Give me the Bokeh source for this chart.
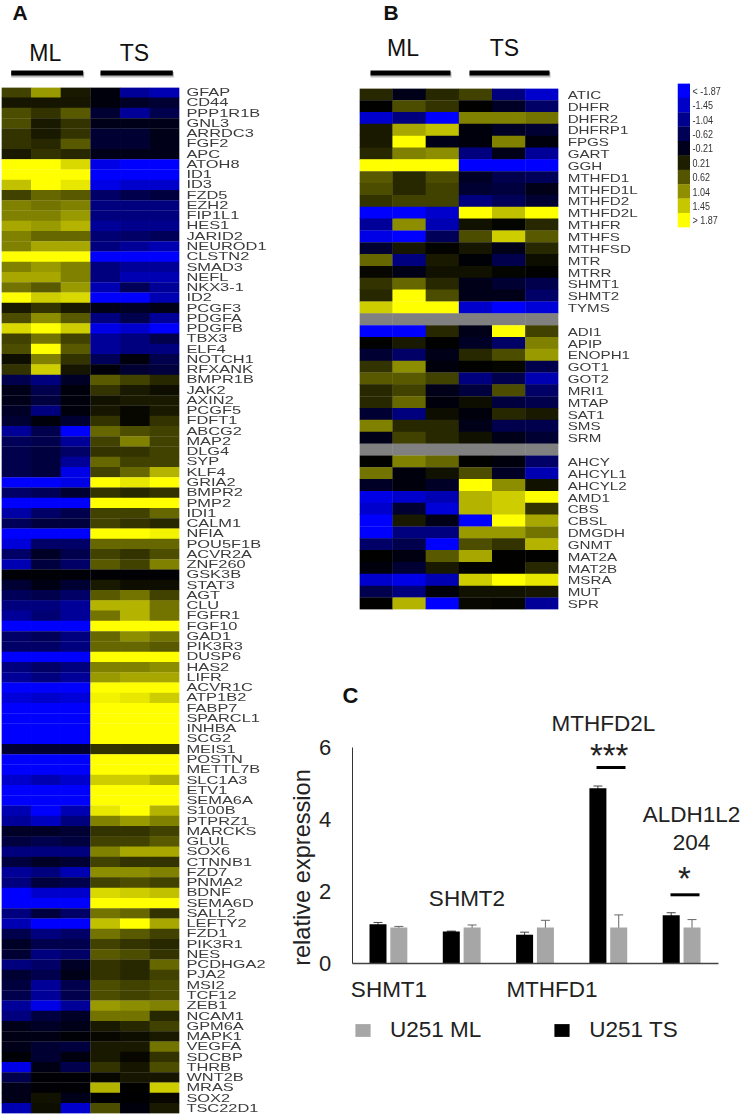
import math
from bokeh.plotting import figure
from bokeh.layouts import row, column
from bokeh.models import (Range1d, FactorRange, LinearColorMapper, ColumnDataSource, Label, Spacer,
                          Whisker, Legend, LegendItem, FixedTicker)
from bokeh.core.properties import value
from bokeh.embed import file_html
from bokeh.resources import INLINE
from bokeh.transform import transform

NAN = float("nan")
SANS = "Liberation Sans"

# ---------- Panel A ----------
A_GENES = ["GFAP","CD44","PPP1R1B","GNL3","ARRDC3","FGF2","APC","ATOH8","ID1","ID3","FZD5","EZH2","FIP1L1","HES1",
 "JARID2","NEUROD1","CLSTN2","SMAD3","NEFL","NKX3-1","ID2","PCGF3","PDGFA","PDGFB","TBX3","ELF4","NOTCH1","RFXANK",
 "BMPR1B","JAK2","AXIN2","PCGF5","FDFT1","ABCG2","MAP2","DLG4","SYP","KLF4","GRIA2","BMPR2","PMP2","IDI1","CALM1",
 "NFIA","POU5F1B","ACVR2A","ZNF260","GSK3B","STAT3","AGT","CLU","FGFR1","FGF10","GAD1","PIK3R3","DUSP6","HAS2","LIFR",
 "ACVR1C","ATP1B2","FABP7","SPARCL1","INHBA","SCG2","MEIS1","POSTN","METTL7B","SLC1A3","ETV1","SEMA6A","S100B","PTPRZ1",
 "MARCKS","GLUL","SOX6","CTNNB1","FZD7","PNMA2","BDNF","SEMA6D","SALL2","LEFTY2","FZD1","PIK3R1","NES","PCDHGA2","PJA2",
 "MSI2","TCF12","ZEB1","NCAM1","GPM6A","MAPK1","VEGFA","SDCBP","THRB","WNT2B","MRAS","SOX2","TSC22D1"]
# expression per sample: ML1 ML2 ML3 TS1 TS2 TS3 (read on a -10..10 colour scale, 10 = |1.87|)
A_VALUES = [
[2.5,6,1,-.5,-6,-7],[.8,.8,.8,-.5,-1.5,-2],[3,2,3.5,-2,-6,-3],[3,1,2,-1,-1,-1],[2,1,2,-2,-2,-1],[2,1.5,3.5,-2,-2,-1],
[1,2,1.5,-1,-1,-1],[10,10,8.5,-9,-10,-10],[10,10,10,-10,-10,-10],[7.5,10,9,-9,-8,-8],[2.5,4,3.5,-4,-3,-2.5],
[5,4.5,5,-5,-5,-5],[5,5,6,-5,-5,-5],[6.5,6,7,-6,-5.5,-5.5],[5,4,4,-4.5,-4,-3.5],[5,6.5,6.5,-5,-6,-7],
[10,10,10,-10,-10,-10],[5,6,5,-5,-6,-6],[6.5,6.5,5,-5,-7,-7],[4.5,3.5,6,-7,-3.5,-6],[10,8,8.5,-10,-10,-7],
[1,2,1,-1,-1.5,-1],[3,5.5,3.5,-5,-3,-6],[8.5,10,8,-9,-8,-10],[2.5,4.5,2.5,-6,-5,-3],[3,10,3.5,-6,-5,-5],
[.5,5,2,-3.5,-.5,-3],[2,8,.8,-.5,-2,-2.5],[-3,-5,-1.5,3.5,2.5,1.5],[-1,-3,-.5,2,1,.5],[-1,-2.5,-.5,.7,1,1],
[-1.5,-5,-.5,.8,.3,1],[-2,-.5,-2,2,.3,2],[-6,-3,-10,4,3,2.5],[-3.5,-3,-6,2.5,5,2.5],[-3,-2.5,-4,2,2,2.5],
[-3,-2.5,-6,4,2.5,2.5],[-3,-2.5,-9,2.5,4,7],[-10,-10,-9,10,9,10],[-4,-3.5,-2,2,1.5,2],[-10,-10,-10,10,10,10],
[-6.5,-4,-3,2.5,2.5,4],[-3.5,-2.5,-2.5,2.5,2,1.5],[-10,-10,-10,10,10,9.5],[-8.5,-4,-4,4,4,4],[-4,-1.5,-3,2.5,2,3],
[-7,-2.5,-4,3.5,2.5,5],[-.3,-.3,-.3,-.2,-.2,-.2],[-2,-.8,-2,1,.5,.5],[-3.5,-3,-4,3.5,4.5,2.5],[-5,-5,-6,7,7,4.5],
[-6,-4.5,-6,4.5,7,4.5],[-10,-10,-10,10,10,10],[-4,-3.5,-5,4,5.5,4.5],[-4,-4,-5,4,4,3.5],[-10,-10,-10,10,10,10],
[-5,-4,-5,5,5,5.5],[-6,-5,-6,6,6.5,6.5],[-10,-10,-10,10,10,10],[-8.5,-8,-8.5,9.5,9,8],[-10,-10,-10,10,10,10],
[-10,-10,-10,10,10,10],[-10,-10,-10,10,10,10],[-10,-10,-10,10,10,10],[-2,-2,-2,2,2,2],[-10,-10,-10,10,10,10],
[-10,-10,-10,10,10,10],[-8,-7,-8,8,8,7],[-10,-10,-10,10,10,10],[-10,-10,-10,10,10,10],[-7,-10,-7,9,10,7],
[-6,-7.5,-5,5,6,5],[-1.5,-1.5,-2,2,2,2.5],[-2.5,-3,-2.5,2.5,2.5,3.5],[-5,-5,-5,5,6.5,6.5],[-2.5,-1.5,-2,2.5,2,2],
[-6,-5,-7,5.5,5.5,5],[-5,-2.5,-3,2.5,3,2.5],[-10,-8,-8,8.5,8,7.5],[-10,-10,-10,10,10,10],[-5,-2.5,-4,4.5,4,2],
[-7,-10,-10,7.5,10,6.5],[-3,-5,-4,4.5,3.5,2.5],[-1.5,-3,-3,2.5,2,1.5],[-2,-5,-4,3.5,3,2],[-5,-4,-1.5,2,1.5,4],
[-2,-3,-1,2,1.5,2.5],[-2.5,-6,-3,3,2.5,3],[-3,-6,-3,3,2.5,3],[-6,-9,-6,6,5.5,5],[-5,-2.5,-1.5,4.5,4.5,1.5],
[-1,-1.5,-1,1,1.5,2.5],[-.8,-.8,-.3,.3,.5,1],[-1,-2,-2.5,1,1,4.5],[-.3,-2,-.6,1,.3,2],[-9,-.8,-3,2,.8,3],
[-3,-.2,-.2,.3,.8,.8],[-1,-.2,-.2,7,0,8],[-1,.7,-1,-.1,-.1,.3],[-7,.5,-8,3,-.5,1]]

# ---------- Panel B ----------
B_GENES = ["ATIC","DHFR","DHFR2","DHFRP1","FPGS","GART","GGH","MTHFD1","MTHFD1L","MTHFD2","MTHFD2L","MTHFR","MTHFS",
 "MTHFSD","MTR","MTRR","SHMT1","SHMT2","TYMS"," ","ADI1","APIP","ENOPH1","GOT1","GOT2","MRI1","MTAP","SAT1","SMS","SRM",
 "  ","AHCY","AHCYL1","AHCYL2","AMD1","CBS","CBSL","DMGDH","GNMT","MAT2A","MAT2B","MSRA","MUT","SPR"]
B_VALUES = [
[1.5,-1,1.5,2.5,-5,-8],[0,3,2,0,-1.5,-4],[-8,-5,-10,5,5,4.5],[1,6.5,7.5,-.5,-1.5,-2],[1,10,-1,-.5,5,-.5],
[1.5,5,5.5,-5,-1,-6],[10,10,10,-10,-10,-10],[3.5,1.5,3,-1.5,-3,-3.5],[3,1.5,2.5,-2,-2.5,-1],[2,2.5,2.5,-5,-3.5,-2],
[-10,-10,-8,10,7.5,10],[-6,5.5,-7,.7,.2,1.5],[-9,-10,-3.5,3,8,3.5],[-2,.8,.1,.8,-1,1.5],[4,-5,1,-.3,-3,.5],
[.3,-1,.7,.7,.2,0],[2,4,1.5,-1,-2,-3],[1.5,10,3,-1,-1,-4],[8,10,10,-8,-10,-8.5],[NAN]*6,
[-10,-10,1.5,-1,10,2.5],[0,1,0,-1.5,-4,5],[-2,-4,-1,1.5,3,6],[2,5.5,-.5,0,.2,-3],[3.5,3.5,2.5,-5,-3,-7],
[1.5,2.5,-1,-2.5,3,-4],[1.5,4,-.5,.5,-2.5,-3],[-2,-5,.5,-.5,1.5,1],[5,1.5,1.5,-1,-3,-3],[-1,2.5,1.5,.7,-1,-2],[NAN]*6,
[0,5,4,0,-.5,-4],[4.5,-.5,.7,3,-1.5,-7],[-1.5,-.5,-1.5,10,5.5,.7],[-9,-8,-7,7,8,10],[-8,-2,-8.5,7,8,2],
[-10,1,-1,-10,10,6.5],[-10,-5,-5,6,6,4.5],[-4,-3,-10,3,2,7],[0,-.7,3.5,6.5,0,0],[-.5,-2,1,0,0,1.5],
[-8,-9,-7,8,10,9],[-3,-5,-.5,.7,.7,.8],[0,7,-10,.3,.2,-6]]

# ---------- colour key ----------
KEY_LABELS = ["< -1.87","-1.45","-1.04","-0.62","-0.21","0.21","0.62","1.04","1.45","> 1.87"]
KEY_VALUES = [-1.87,-1.45,-1.04,-.62,-.21,.21,.62,1.04,1.45,1.87]

# ---------- Panel C ----------
C_GENES = ["SHMT1","SHMT2","MTHFD1","MTHFD2L","ALDH1L2\n204"]
C_TS = [1.09,0.89,0.80,4.87,1.34]
C_TS_ERR = [0.05,0.01,0.07,0.06,0.07]
C_ML = [1.0,1.0,1.0,1.0,1.0]
C_ML_ERR = [0.03,0.07,0.20,0.35,0.22]

palette = []
for i in range(256):
    v = (i - 127.5) / 127.5
    g = int(round(abs(v) * 255))
    palette.append("#%02x%02x%02x" % ((g, g, 0) if v > 0 else (0, 0, g)))
mapper = LinearColorMapper(palette=palette, low=-10, high=10, nan_color="#808080")
BLUR = {"filter": "blur(0.55px)"}


def bare(p):
    p.outline_line_color = None
    p.xgrid.visible = False
    p.ygrid.visible = False
    p.xaxis.visible = False
    p.yaxis.visible = False
    return p


def heat(genes, values, w, h, left, right, top, bottom):
    xs, ys, vs = [], [], []
    for g_, vals in zip(genes, values):
        for j, v_ in enumerate(vals):
            xs.append(j + 0.5); ys.append(g_); vs.append(v_)
    rng = FactorRange(factors=list(reversed(genes)))
    p = figure(width=w, height=h, x_range=Range1d(0, 6), y_range=rng, output_backend="svg", toolbar_location=None,
               min_border_left=left, min_border_right=right, min_border_top=top, min_border_bottom=bottom,
               styles=BLUR)
    bare(p)
    p.rect(x="x", y="y", width=1.01, height=1.03, source=ColumnDataSource(dict(x=xs, y=ys, v=vs)),
           fill_color=transform("v", mapper), line_color=None)
    return p, rng


def gene_text(rng, w, h, top, bottom, font_size, scale, offset=1, color="#3c3c3c"):
    p = figure(width=w, height=h, x_range=Range1d(0, w), y_range=rng, output_backend="svg", toolbar_location=None,
               min_border_left=0, min_border_right=0, min_border_top=top, min_border_bottom=bottom,
               background_fill_alpha=0, border_fill_alpha=0,
               styles={"transform": f"scaleX({scale})", "transform-origin": "left top", "filter": "blur(0.4px)"})
    bare(p)
    names = list(rng.factors)
    p.text(x=[offset] * len(names), y=names, text=names, text_font=value(SANS), text_font_size=value(font_size),
           text_color=color, text_align="left", text_baseline="middle")
    return p


def header(w, h, x_start, letter, letter_x, ml_x, ts_x, mid_y, bars):
    p = figure(width=w, height=h, x_range=Range1d(x_start, x_start + w), y_range=Range1d(h, 0), output_backend="svg",
               toolbar_location=None, min_border=0)
    bare(p)
    for (a, b) in bars:
        p.quad(left=[a], right=[b + 1], top=[71.5], bottom=[77], fill_color="#bbbbbb", line_color=None)
        p.quad(left=[a], right=[b], top=[70], bottom=[75], fill_color="#000000", line_color=None)
    p.add_layout(Label(x=letter_x, y=12, text=letter, text_font=SANS, text_font_style="bold", text_font_size="21px",
                       text_align="left", text_baseline="middle", text_color="#111111"))
    for txt, x in (("ML", ml_x), ("TS", ts_x)):
        p.add_layout(Label(x=x, y=mid_y, text=txt, text_font=SANS, text_font_size="23px", text_align="center",
                           text_baseline="middle", text_color="#111111"))
    return p


# ---- A
hdr_a = header(275, 87, 0, "A", 12, 44.7, 134, 52, [(10.7, 82.7), (100, 172.3)])
heat_a, rng_a = heat(A_GENES, A_VALUES, 183, 1027, 1, 4, 0, 1)
lab_a = gene_text(rng_a, 57, 1027, 0, 1, "10.2px", 1.61)
col_a = column(hdr_a, row(heat_a, lab_a, Spacer(width=35, height=1027), spacing=0), spacing=0)

# ---- B
hdr_b = header(467, 83, 275, "B", 383, 402.5, 504, 47, [(370, 450), (469, 549)])
H_B = 589
heat_b, rng_b = heat(B_GENES, B_VALUES, 292, H_B, 84, 9, 5, H_B - 5 - 521)
lab_b = gene_text(rng_b, 55, H_B, 5, H_B - 5 - 521, "11.6px", 1.31, offset=0)

key_rng = FactorRange(factors=list(reversed(KEY_LABELS)))
key = figure(width=30, height=H_B, x_range=Range1d(0, 1), y_range=key_rng, output_backend="svg",
             toolbar_location=None, min_border_left=17, min_border_right=0, min_border_top=0,
             min_border_bottom=H_B - 144, styles=BLUR)
bare(key)
key.rect(x="x", y="y", width=1, height=1.02, line_color=None, fill_color=transform("v", mapper),
         source=ColumnDataSource(dict(x=[0.5] * 10, y=KEY_LABELS, v=[v_ * 10 / 1.87 for v_ in KEY_VALUES])))
key_lab = gene_text(key_rng, 52, H_B, 0, H_B - 144, "11px", 0.82, offset=3, color="#333333")

# ---- C : the frame fills the whole panel, the axes sit at their data location
W_C, H_C = 467, 442
TOP_C = 672          # panel top on the page
PX_PER_GROUP, PX_PER_UNIT = 73.3, 36
X0_PX, Y0_PX = 351.7, 963


def px_x(px):
    return (px - X0_PX) / PX_PER_GROUP


def px_y(px):
    return (Y0_PX - px) / PX_PER_UNIT


c = figure(width=W_C, height=H_C, x_range=Range1d(px_x(275), px_x(742)), y_range=Range1d(px_y(TOP_C + H_C), px_y(TOP_C)),
           output_backend="svg", toolbar_location=None, min_border=0)
c.outline_line_color = None
c.xgrid.visible = False
c.ygrid.visible = False
c.yaxis.fixed_location = 0
c.yaxis.bounds = (0, 6)
c.yaxis.ticker = FixedTicker(ticks=[0, 2, 4, 6])
c.yaxis.major_tick_out = 0
c.yaxis.major_tick_in = 0
c.yaxis.minor_tick_out = 0
c.yaxis.minor_tick_in = 0
c.yaxis.major_label_standoff = 21
c.yaxis.major_label_text_font = SANS
c.yaxis.major_label_text_font_size = "22px"
c.yaxis.major_label_text_color = "#222222"
c.yaxis.axis_line_color = "#333333"
c.xaxis.fixed_location = 0
c.xaxis.bounds = (0, 5)
c.xaxis.ticker = FixedTicker(ticks=[])
c.xaxis.major_tick_out = 0
c.xaxis.major_tick_in = 0
c.xaxis.minor_tick_out = 0
c.xaxis.minor_tick_in = 0
c.xaxis.axis_line_color = "#444444"
c.xaxis.axis_line_width = 1.5

idx = list(range(len(C_GENES)))
src = ColumnDataSource(dict(
    x_ts=[i + 0.352 for i in idx], x_ml=[i + 0.636 for i in idx], ts=C_TS, ml=C_ML,
    ts_hi=[v_ + e for v_, e in zip(C_TS, C_TS_ERR)], ts_lo=[v_ - e for v_, e in zip(C_TS, C_TS_ERR)],
    ml_hi=[v_ + e for v_, e in zip(C_ML, C_ML_ERR)], ml_lo=[v_ - e for v_, e in zip(C_ML, C_ML_ERR)]))
r_ts = c.vbar(x="x_ts", top="ts", width=0.232, source=src, fill_color="#000000", line_color=None)
r_ml = c.vbar(x="x_ml", top="ml", width=0.232, source=src, fill_color="#a6a6a6", line_color=None)
for base, up, lo, col in (("x_ts", "ts_hi", "ts_lo", "#444444"), ("x_ml", "ml_hi", "ml_lo", "#666666")):
    wk = Whisker(base=base, upper=up, lower=lo, source=src, line_color=col, line_width=1)
    wk.upper_head.size = 9; wk.lower_head.size = 9
    wk.upper_head.line_color = col; wk.lower_head.line_color = col
    c.add_layout(wk)


def note(text, px, py, size="22.5px", color="#222222", style="normal", align="center", angle=0):
    c.add_layout(Label(x=px_x(px), y=px_y(py), text=text, text_font=SANS, text_font_size=size, text_color=color,
                       text_font_style=style, text_align=align, text_baseline="middle", angle=angle))


note(C_GENES[0], 388.5, 989)
note(C_GENES[1], 466.5, 898)
note(C_GENES[2], 551.5, 989)
note(C_GENES[3], 603, 723)
note(C_GENES[4].split("\n")[0], 691, 814)
note(C_GENES[4].split("\n")[1], 691, 842)
note("***", 608.7, 755, size="33px")
note("*", 684, 878, size="33px")
note("C", 342, 694.5, size="22px", style="bold", color="#111111", align="left")
note("relative expression", 301, 867, size="23.6px", angle=math.pi / 2)
c.segment(x0=[px_x(596), px_x(670)], y0=[px_y(767), px_y(894.3)], x1=[px_x(625), px_x(699)], y1=[px_y(767), px_y(894.3)],
          line_color="#000000", line_width=3)

leg = Legend(items=[LegendItem(label="U251 ML", renderers=[r_ml]), LegendItem(label="U251 TS", renderers=[r_ts])],
             orientation="horizontal", location=(78, 71), border_line_color=None, background_fill_alpha=0,
             glyph_width=19, glyph_height=16, label_standoff=18, spacing=71, padding=0, margin=0,
             label_text_font=SANS, label_text_font_size="22.5px", label_text_color="#222222")
c.add_layout(leg)

key_col = column(row(key, key_lab, spacing=0), spacing=0)
col_b = column(hdr_b, row(heat_b, lab_b, Spacer(width=38, height=H_B), key_col, spacing=0), c, spacing=0)

root = row(col_a, col_b, spacing=0)
open("out.html", "w").write(file_html(root, INLINE))
